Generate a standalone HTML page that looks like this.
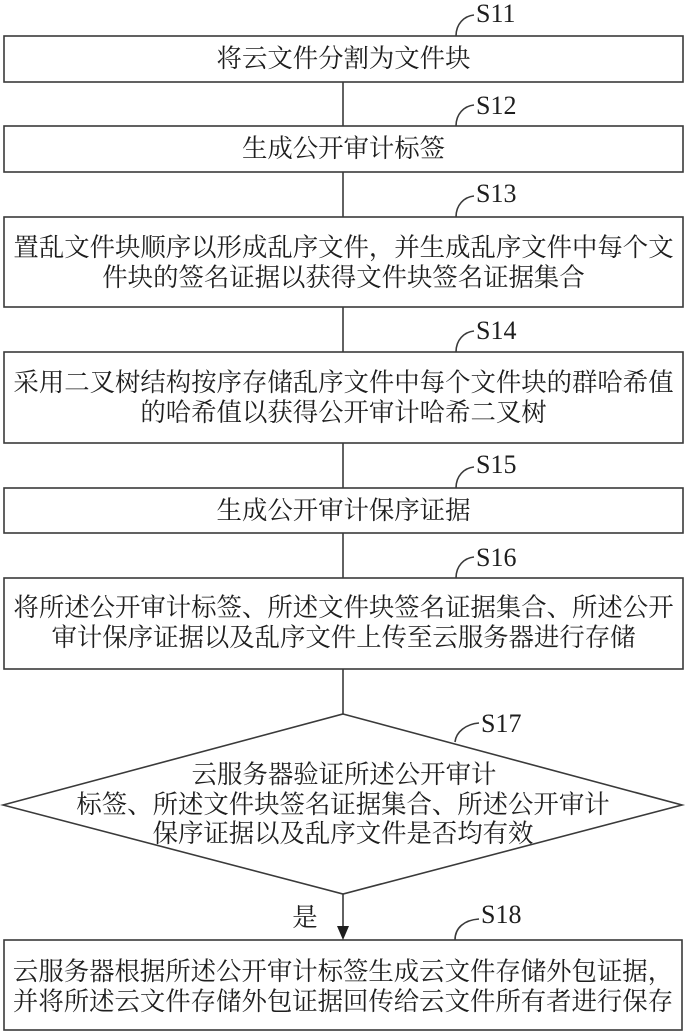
<!DOCTYPE html>
<html>
<head>
<meta charset="utf-8">
<style>
  html, body { margin: 0; padding: 0; background: #ffffff; }
  body { width: 687px; height: 1032px; overflow: hidden; }
  svg { display: block; }
  .cn { font-family: "Liberation Serif", "Noto Serif CJK SC", "Noto Sans CJK SC", serif; font-size: 25.4px; fill: #1e1e1e; }
  .lb { font-family: "Liberation Serif", serif; font-size: 26px; fill: #1e1e1e; }
</style>
</head>
<body>
<svg width="687" height="1032" viewBox="0 0 687 1032" xmlns="http://www.w3.org/2000/svg">
  <g fill="none" stroke="#3a3a3a" stroke-width="1.6">
    <!-- boxes -->
    <rect x="4" y="36" width="679" height="46"/>
    <rect x="4" y="126" width="679" height="46"/>
    <rect x="4" y="217" width="679" height="90"/>
    <rect x="4" y="352" width="679" height="91"/>
    <rect x="4" y="488" width="679" height="45"/>
    <rect x="4" y="578" width="679" height="91"/>
    <polygon points="343,714 682,805 343,894 3,805"/>
    <rect x="4" y="940" width="678" height="90"/>
    <!-- connectors -->
    <line x1="343" y1="82" x2="343" y2="126"/>
    <line x1="343" y1="172" x2="343" y2="217"/>
    <line x1="343" y1="307" x2="343" y2="352"/>
    <line x1="343" y1="443" x2="343" y2="488"/>
    <line x1="343" y1="533" x2="343" y2="578"/>
    <line x1="343" y1="669" x2="343" y2="714"/>
    <line x1="343" y1="894" x2="343" y2="927"/>
    <!-- label curves -->
    <path d="M456,36 C456,24 464,16 474,15"/>
    <path d="M456,126 C456,114 464,106 474,105"/>
    <path d="M456,217 C456,205 464,197 474,196"/>
    <path d="M456,352 C456,340 464,332 474,331"/>
    <path d="M456,488 C456,476 464,468 474,467"/>
    <path d="M456,578 C456,566 464,558 474,557"/>
    <path d="M455,742 C456,732 466,724 479,723"/>
    <path d="M455,940 C455,928 464,920 479,919"/>
  </g>
  <polygon points="337,926 349,926 343,940" fill="#1e1e1e"/>

  <!-- step labels -->
  <text class="lb" x="476" y="22">S11</text>
  <text class="lb" x="476" y="114">S12</text>
  <text class="lb" x="476" y="202">S13</text>
  <text class="lb" x="476" y="339">S14</text>
  <text class="lb" x="476" y="473">S15</text>
  <text class="lb" x="476" y="566">S16</text>
  <text class="lb" x="481" y="732">S17</text>
  <text class="lb" x="481" y="923">S18</text>

  <!-- box texts -->
  <g class="cn" text-anchor="middle" dominant-baseline="central">
    <text x="343.5" y="59">将云文件分割为文件块</text>
    <text x="343.5" y="149">生成公开审计标签</text>
    <text x="343.5" y="248">置乱文件块顺序以形成乱序文件，并生成乱序文件中每个文</text>
    <text x="343.5" y="278">件块的签名证据以获得文件块签名证据集合</text>
    <text x="343.5" y="383">采用二叉树结构按序存储乱序文件中每个文件块的群哈希值</text>
    <text x="343.5" y="413">的哈希值以获得公开审计哈希二叉树</text>
    <text x="343.5" y="511">生成公开审计保序证据</text>
    <text x="343.5" y="608">将所述公开审计标签、所述文件块签名证据集合、所述公开</text>
    <text x="343.5" y="638">审计保序证据以及乱序文件上传至云服务器进行存储</text>
    <text x="344" y="775">云服务器验证所述公开审计</text>
    <text x="343" y="805">标签、所述文件块签名证据集合、所述公开审计</text>
    <text x="343" y="834">保序证据以及乱序文件是否均有效</text>
    <text x="305" y="918">是</text>
    <text x="343" y="972">云服务器根据所述公开审计标签生成云文件存储外包证据，</text>
    <text x="343" y="1002">并将所述云文件存储外包证据回传给云文件所有者进行保存</text>
  </g>
</svg>
</body>
</html>
